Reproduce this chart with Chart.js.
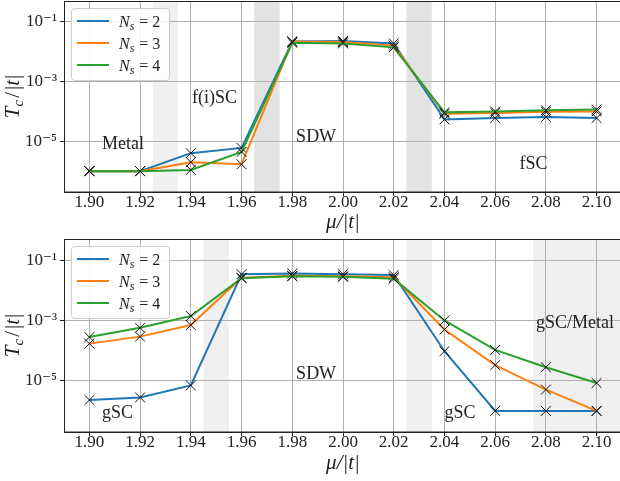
<!DOCTYPE html>
<html>
<head>
<meta charset="utf-8">
<script src="https://cdn.jsdelivr.net/npm/chart.js@4.4.0/dist/chart.umd.min.js"></script>
<style>
    html, body { margin: 0; padding: 0; background: #fff; overflow: hidden; width: 620px; height: 481px; }
    canvas { display: block; }
</style>
</head>
<body>
<canvas id="tc-top" width="624" height="236"></canvas>
<canvas id="tc-bottom" width="624" height="245"></canvas>
<script>
// chemical potential mu/|t|
const mu = [1.90, 1.92, 1.94, 1.96, 1.98, 2.00, 2.02, 2.04, 2.06, 2.08, 2.10];
const xTicks = [1.90, 1.92, 1.94, 1.96, 1.98, 2.00, 2.02, 2.04, 2.06, 2.08, 2.10];
const yTicks = [1e-5, 1e-3, 1e-1];
const yTickLabels = ["10\u207B\u2075", "10\u207B\u00B3", "10\u207B\u00B9"];
const nsValues = [2, 3, 4];

// top panel Tc/|t|
const topNs2 = [1.0e-6, 1.0e-6, 4.0e-6, 6.0e-6, 2.2e-2, 2.3e-2, 1.9e-2, 5.4e-5, 6.0e-5, 6.5e-5, 6.0e-5];
const topNs3 = [1.0e-6, 1.0e-6, 2.0e-6, 1.7e-6, 2.2e-2, 2.1e-2, 1.6e-2, 8.3e-5, 8.9e-5, 9.7e-5, 1.0e-4];
const topNs4 = [1.0e-6, 1.0e-6, 1.1e-6, 4.4e-6, 2.0e-2, 1.9e-2, 1.4e-2, 9.3e-5, 1.0e-4, 1.1e-4, 1.17e-4];

// bottom panel Tc/|t|
const bottomNs2 = [2.3e-6, 2.8e-6, 7.0e-6, 3.4e-2, 3.6e-2, 3.4e-2, 3.2e-2, 9.5e-5, 1.0e-6, 1.0e-6, 1.0e-6];
const bottomNs3 = [1.7e-4, 2.9e-4, 7.0e-4, 2.6e-2, 3.0e-2, 2.9e-2, 2.7e-2, 5.0e-4, 3.3e-5, 5.1e-6, 1.0e-6];
const bottomNs4 = [2.8e-4, 5.7e-4, 1.4e-3, 2.5e-2, 2.9e-2, 2.8e-2, 2.4e-2, 1.0e-3, 1.05e-4, 2.8e-5, 8.4e-6];

// shaded transition regions [from, to]
const topBandsLight = [[1.925, 1.935]];
const topBandsDark = [[1.965, 1.975], [2.025, 2.035]];
const bottomBandsLight = [[1.945, 1.955], [2.025, 2.035], [2.075, 2.12]];
const bottomBandsDark = [];

// phase labels [text, mu, Tc]
const topPhases = [["Metal", 1.9133, 7.9e-6], ["f(i)SC", 1.9493, 2.8e-4], ["SDW", 1.9894, 1.35e-5], ["fSC", 2.0751, 1.7e-6]];
const bottomPhases = [["gSC", 1.9111, 8.5e-7], ["SDW", 1.9894, 1.6e-5], ["gSC", 2.0461, 8.5e-7], ["gSC/Metal", 2.0915, 8.0e-4]];

const colors = ["#1f77b4", "#ff7f0e", "#2ca02c"];
const serif = "'Liberation Serif', 'DejaVu Serif', serif";

function points(ys) {
    return mu.map((x, i) => ({ x: x, y: ys[i] }));
}

const panelPlugin = {
    id: "panel",
    beforeDraw(chart, args, opts) {
        const { ctx, chartArea, scales } = chart;
        const x = scales.x;
        ctx.save();
        ctx.beginPath();
        ctx.rect(chartArea.left, chartArea.top, chartArea.right - chartArea.left, chartArea.bottom - chartArea.top);
        ctx.clip();
        const shade = (bands, col) => {
            bands.forEach((b) => {
                const x0 = x.getPixelForValue(b[0]);
                const x1 = x.getPixelForValue(b[1]);
                ctx.fillStyle = col;
                ctx.fillRect(x0, chartArea.top, x1 - x0, chartArea.bottom - chartArea.top);
            });
        };
        shade(opts.light, "#f0f0f0");
        shade(opts.dark, "#e3e3e3");
        ctx.restore();
    },
    afterDraw(chart, args, opts) {
        const { ctx, chartArea, scales } = chart;
        ctx.save();

        // frame
        ctx.strokeStyle = "#222";
        ctx.lineWidth = 1;
        ctx.strokeRect(chartArea.left + 0.5, chartArea.top + 0.5, chartArea.right - chartArea.left, chartArea.bottom - chartArea.top - 0.5);

        // phase labels
        ctx.fillStyle = "#222";
        ctx.font = "18px " + serif;
        ctx.textAlign = "center";
        ctx.textBaseline = "middle";
        opts.phases.forEach((p) => {
            ctx.fillText(p[0], scales.x.getPixelForValue(p[1]), scales.y.getPixelForValue(p[2]));
        });

        // legend
        const lx = chartArea.left + 7;
        const ly = chartArea.top + 7;
        ctx.fillStyle = "rgba(255,255,255,0.85)";
        ctx.strokeStyle = "#cccccc";
        ctx.beginPath();
        ctx.roundRect(lx + 0.5, ly + 0.5, 98, 72, 3);
        ctx.fill();
        ctx.stroke();
        nsValues.forEach((n, i) => {
            const ry = ly + 13 + i * 22;
            ctx.strokeStyle = colors[i];
            ctx.lineWidth = 2;
            ctx.beginPath();
            ctx.moveTo(lx + 6, ry);
            ctx.lineTo(lx + 38, ry);
            ctx.stroke();
            ctx.fillStyle = "#222";
            ctx.textAlign = "left";
            ctx.textBaseline = "alphabetic";
            let tx = lx + 48;
            const base = ry + 6;
            ctx.font = "italic 16px " + serif;
            ctx.fillText("N", tx, base);
            tx += ctx.measureText("N").width;
            ctx.font = "italic 12px " + serif;
            ctx.fillText("s", tx, base + 3);
            tx += ctx.measureText("s").width + 1;
            ctx.font = "16px " + serif;
            ctx.fillText(" = " + n, tx, base);
        });

        // y axis title  T_c/|t|
        const parts = [
            ["T", "italic 21px " + serif, 0, 0],
            ["c", "italic 15px " + serif, 4, 2],
            ["/", "21px " + serif, 0, 2],
            ["|", "21px " + serif, 0, 0],
            ["t", "italic 21px " + serif, 0, 1],
            ["|", "21px " + serif, 0, 0],
        ];
        let total = 0;
        parts.forEach((p) => {
            ctx.font = p[1];
            total += ctx.measureText(p[0]).width + p[3];
        });
        ctx.translate(19, (chartArea.top + chartArea.bottom) / 2);
        ctx.rotate(-Math.PI / 2);
        ctx.fillStyle = "#222";
        ctx.textAlign = "left";
        ctx.textBaseline = "alphabetic";
        let px = -total / 2;
        parts.forEach((p) => {
            ctx.font = p[1];
            ctx.fillText(p[0], px, p[2]);
            px += ctx.measureText(p[0]).width + p[3];
        });
        ctx.restore();
    },
};

function makePanel(id, series, bands, phases, xHeight, padTop, titlePad) {
    const datasets = series.map((ys, i) => ({
        label: "N_s = " + nsValues[i],
        data: points(ys),
        borderColor: colors[i],
        backgroundColor: colors[i],
        borderWidth: 2,
        pointStyle: "crossRot",
        pointRadius: 7,
        pointHoverRadius: 7,
        pointBorderColor: "#111",
        pointBorderWidth: 1,
        order: 2 - i,
        showLine: true,
        tension: 0,
    }));

    return new Chart(document.getElementById(id), {
        type: "scatter",
        data: { datasets: datasets },
        plugins: [panelPlugin],
        options: {
            responsive: false,
            animation: false,
            events: [],
            layout: {
                autoPadding: false,
                padding: { top: padTop, right: 2, left: 0, bottom: 0 },
            },
            scales: {
                x: {
                    type: "linear",
                    min: 1.89,
                    max: 2.11,
                    afterBuildTicks: (scale) => {
                        scale.ticks = xTicks.map((v) => ({ value: v }));
                    },
                    afterFit: (scale) => {
                        scale.height = xHeight;
                        scale.paddingLeft = 0;
                        scale.paddingRight = 0;
                    },
                    ticks: {
                        color: "#222",
                        padding: -4,
                        maxRotation: 0,
                        font: { family: serif, size: 17 },
                        callback: (v) => v.toFixed(2),
                    },
                    grid: {
                        color: "#b0b0b0",
                        lineWidth: 1,
                        tickLength: 4,
                        tickColor: "#222",
                    },
                    border: { color: "#222", width: 1 },
                    title: {
                        display: true,
                        text: "\u03BC/|t|",
                        color: "#222",
                        font: { family: serif, size: 21, style: "italic" },
                        padding: { top: 0, bottom: titlePad },
                    },
                },
                y: {
                    type: "logarithmic",
                    min: 2e-7,
                    max: 0.5,
                    afterBuildTicks: (scale) => {
                        scale.ticks = yTicks.map((v) => ({ value: v, major: true }));
                    },
                    afterFit: (scale) => {
                        scale.width = 64;
                        scale.paddingTop = 0;
                        scale.paddingBottom = 0;
                    },
                    ticks: {
                        color: "#222",
                        padding: 3,
                        font: { family: serif, size: 17 },
                        callback: (v) => {
                            const k = yTicks.indexOf(v);
                            return k >= 0 ? yTickLabels[k] : "";
                        },
                    },
                    grid: {
                        color: "#b0b0b0",
                        lineWidth: 1,
                        tickLength: 4,
                        tickColor: "#222",
                    },
                    border: { color: "#222", width: 1 },
                },
            },
            plugins: {
                legend: { display: false },
                tooltip: { enabled: false },
                panel: {
                    light: bands[0],
                    dark: bands[1],
                    phases: phases,
                },
            },
        },
    });
}

makePanel("tc-top", [topNs2, topNs3, topNs4], [topBandsLight, topBandsDark], topPhases, 44, 1, 1);
makePanel("tc-bottom", [bottomNs2, bottomNs3, bottomNs4], [bottomBandsLight, bottomBandsDark], bottomPhases, 49, 3, 5);
</script>
</body>
</html>
